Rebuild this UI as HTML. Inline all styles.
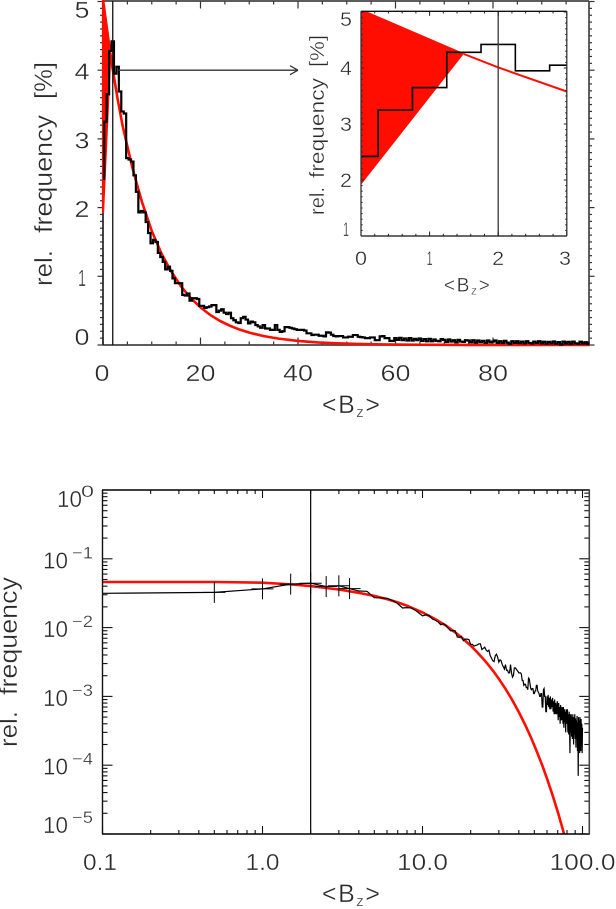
<!DOCTYPE html>
<html>
<head>
<meta charset="utf-8">
<title>Relative frequency of Bz</title>
<style>
html,body{margin:0;padding:0;background:#fff;width:616px;height:909px;overflow:hidden}
svg{display:block}
text{font-family:"Liberation Sans",sans-serif;fill:#2a2a2a;stroke:#fff;stroke-width:.35px;paint-order:normal}
</style>
</head>
<body>
<svg id="figure" xmlns="http://www.w3.org/2000/svg" width="616" height="909" viewBox="0 0 616 909">
  <defs>
    <clipPath id="main-clip"><rect x="101.5" y="0" width="488" height="347"/></clipPath>
    <clipPath id="inset-clip"><rect x="361" y="11.3" width="205.8" height="224.7"/></clipPath>
    <clipPath id="log-clip"><rect x="102.5" y="490" width="487" height="344"/></clipPath>
  </defs>
  <g id="main-plot"></g>
  <g id="inset-plot"></g>
  <g id="log-plot"></g>

  <g font-size="25">
    <text transform="translate(52,286) rotate(-90)" textLength="36" lengthAdjust="spacingAndGlyphs">rel.</text>
    <text transform="translate(52,233) rotate(-90)" textLength="118" lengthAdjust="spacingAndGlyphs">frequency</text>
    <text transform="translate(52,99) rotate(-90)" textLength="37" lengthAdjust="spacingAndGlyphs">[%]</text>
  </g>
  <text x="322" y="413" font-size="25" letter-spacing="1.5">&lt;B<tspan font-size="15" dy="4">z</tspan><tspan dy="-4">&gt;</tspan></text>
  <g font-size="20">
    <text transform="translate(324,215) rotate(-90)" textLength="28" lengthAdjust="spacingAndGlyphs">rel.</text>
    <text transform="translate(324,178) rotate(-90)" textLength="100" lengthAdjust="spacingAndGlyphs">frequency</text>
    <text transform="translate(324,67) rotate(-90)" textLength="32" lengthAdjust="spacingAndGlyphs">[%]</text>
  </g>
  <text x="444" y="291.5" font-size="19" letter-spacing="1.6">&lt;B<tspan font-size="12" dy="3">z</tspan><tspan dy="-3">&gt;</tspan></text>
  <g font-size="25">
    <text transform="translate(17,747) rotate(-90)" textLength="36" lengthAdjust="spacingAndGlyphs">rel.</text>
    <text transform="translate(17,695) rotate(-90)" textLength="118" lengthAdjust="spacingAndGlyphs">frequency</text>
  </g>
  <text x="322" y="902" font-size="25" letter-spacing="1.5">&lt;B<tspan font-size="15" dy="4">z</tspan><tspan dy="-4">&gt;</tspan></text>
</svg>
<script>
// Histogram in percent, one value per 0.5-wide bin centred at index * binWidth
const binWidth = 0.5;
const histogram = [
2.42,3.25,3.65,4.28,4.42,3.95,4.05,3.69,3.40,3.37,
2.72,2.70,2.67,2.47,2.23,1.93,1.95,1.93,1.79,1.63,
1.48,1.53,1.50,1.34,1.28,1.21,1.10,1.14,1.08,0.97,
0.90,0.90,0.90,0.73,0.72,0.75,0.645,0.68,0.68,0.67,
0.57,0.57,0.54,0.55,0.56,0.58,0.58,0.48,0.50,0.52,
0.47,0.45,0.47,0.39,0.36,0.33,0.32,0.39,0.41,0.37,
0.315,0.34,0.33,0.29,0.27,0.25,0.29,0.24,0.24,0.22,
0.22,0.29,0.22,0.19,0.20,0.26,0.26,0.25,0.24,0.23,
0.22,0.22,0.22,0.21,0.17,0.17,0.145,0.15,0.15,0.135,
0.135,0.125,0.185,0.18,0.15,0.13,0.125,0.13,0.13,0.11,
0.11,0.12,0.12,0.145,0.145,0.12,0.115,0.11,0.10,0.10,
0.11,0.11,0.07,0.07,0.125,0.13,0.10,0.10,0.06,0.06,
0.10,0.075,0.105,0.07,0.095,0.065,0.10,0.065,0.09,0.07,
0.095,0.06,0.085,0.055,0.09,0.055,0.08,0.06,0.055,0.085,
0.075,0.045,0.08,0.05,0.07,0.04,0.075,0.05,0.045,0.07,
0.065,0.04,0.07,0.035,0.065,0.042,0.06,0.03,0.065,0.04,
0.05,0.065,0.03,0.055,0.028,0.06,0.035,0.015,0.055,0.03,
0.055,0.026,0.05,0.024,0.055,0.03,0.02,0.05,0.028,0.055,
0.024,0.048,0.018,0.045,0.024,0.052,0.016,0.042,0.007,0.05,
0.02,0.045,0.015,0.05,0.024,0.016,0.047,0.02,0.04,0.015,0.035
];
// Exponential fit, percent
const fitX = [1.5,2,3,4,5,6,7,8,10,12,14,16,18,20,22,24,26,28,30,33,36,40,44,48,52,56,60,65,70,75,80,90,100];
const fitY = [4.25,4.01,3.58,3.20,2.89,2.59,2.33,2.08,1.66,1.33,1.07,0.853,0.683,0.547,0.437,0.350,0.281,0.225,0.180,0.129,0.0925,0.0591,0.0379,0.0243,0.0155,0.0100,0.00640,0.00367,0.00211,0.00121,0.00069,0.00023,0.00008];
// Low-end values of the fit as seen on the log axes
const logFitHeadX = [0.1,0.5,1.0];
const logFitHeadY = [4.6,4.6,4.5];
// Triangular red filled region
const fillX = [0,1.5,0];
const fillY = [5.05,4.26,1.92];
// Marked value and arrow
const markerX = [2];
const arrowValue = [4];
// Leftmost histogram value on the log axis
const logStartX = [0.1];
const logStartY = [3.15];
// Tick labels
const mainXLabels = [0,20,40,60,80];
const mainYLabels = [0,1,2,3,4,5];
const insetXLabels = [0,1,2,3];
const insetYLabels = [1,2,3,4,5];
const logXLabels = ["0.1","1.0","10.0","100.0"];
const logYExponents = [0,-1,-2,-3,-4,-5];
const crossBins = [1,2,3,4,5,6,7];

const NS = 'http://www.w3.org/2000/svg';
const mainG = document.getElementById('main-plot');
const insetG = document.getElementById('inset-plot');
const logG = document.getElementById('log-plot');

const mx = v => 103 + v * 4.875;
const my = v => 345 - v * 68.7;
const ix = v => 361 + v * 68.6;
const iy = v => 236 - (v - 1) * 56;
const lx = v => 102.5 + (Math.log10(v) + 1) * 160;
const ly = v => 490 - Math.log10(v) * 68.8;

function line(parent, x1, y1, x2, y2, color, w, name) {
  const el = document.createElementNS(NS, 'line');
  
  
  el.setAttribute('x1', x1);
  el.setAttribute('y1', y1);
  el.setAttribute('x2', x2);
  el.setAttribute('y2', y2);
  el.setAttribute('stroke', color);
  el.setAttribute('stroke-width', w);
  parent.appendChild(el);
  return el;
}
function poly(parent, pts, stroke, w, fill, clip, name) {
  const el = document.createElementNS(NS, 'polyline');
  
  
  el.setAttribute('points', pts.map(p => p[0].toFixed(2) + ',' + p[1].toFixed(2)).join(' '));
  el.setAttribute('stroke', stroke);
  el.setAttribute('stroke-width', w);
  el.setAttribute('fill', fill);
  el.setAttribute('stroke-linejoin', 'miter');
  if (clip) el.setAttribute('clip-path', 'url(#' + clip + ')');
  parent.appendChild(el);
  return el;
}
function label(parent, x, y, str, size, width, anchor, name) {
  const el = document.createElementNS(NS, 'text');
  
  
  el.setAttribute('x', x);
  el.setAttribute('y', y);
  el.setAttribute('font-size', size);
  el.setAttribute('text-anchor', anchor);
  el.setAttribute('textLength', width);
  el.setAttribute('lengthAdjust', 'spacingAndGlyphs');
  el.textContent = str;
  parent.appendChild(el);
  return el;
}
function stepPoints(sx, sy, maxIndex) {
  const pts = [[sx(0), sy(histogram[0])]];
  for (let i = 0; i < histogram.length && i <= maxIndex; i++) {
    const right = (i + 0.5) * binWidth;
    pts.push([sx(right), sy(histogram[i])]);
    if (i + 1 < histogram.length) pts.push([sx(right), sy(histogram[i + 1])]);
  }
  return pts;
}
const clamp = (v, a, b) => Math.max(a, Math.min(b, v));

/* ---------- main histogram ---------- */
for (let v = 0; v <= 95; v += 5) {
  const major = v % 20 === 0;
  const len = major ? 7.5 : 3.5;
  line(mainG, mx(v), 345, mx(v), 345 - len, '#333', 1.2, 'main-x-tick-bottom');
  line(mainG, mx(v), 1, mx(v), 1 + len, '#333', 1.2, 'main-x-tick-top');
}
for (let k = 0; k <= 50; k++) {
  const major = k % 10 === 0;
  const len = major ? 5.5 : 3;
  line(mainG, 103, my(k / 10), 103 - len, my(k / 10), '#333', 1.2, 'main-y-tick-left');
  line(mainG, 589, my(k / 10), 589 + len, my(k / 10), '#333', 1.2, 'main-y-tick-right');
}
line(mainG, 103, 1, 589, 1, '#444', 1.7, 'main-frame-top');
line(mainG, 103, 345, 589, 345, '#444', 1.7, 'main-frame-bottom');
line(mainG, 103, 1, 103, 345, '#222', 1.7, 'main-frame-left');
line(mainG, 589, 1, 589, 345, '#444', 1.7, 'main-frame-right');
poly(mainG, fillX.map((x, i) => [mx(x), my(fillY[i])]).concat([[mx(fillX[0]), my(fillY[0])]]), '#ff0d00', 2.2, '#ff0d00', 'main-clip', 'main-fit-fill');
poly(mainG, fitX.map((x, i) => [mx(x), my(fitY[i])]), '#ff0d00', 2.6, 'none', 'main-clip', 'main-fit-line');
poly(mainG, stepPoints(mx, my, histogram.length), '#000', 2.2, 'none', 'main-clip', 'main-histogram-line');
line(mainG, mx(markerX[0]), 1, mx(markerX[0]), 345, '#111', 1.3, 'main-marker-line');
line(mainG, mx(3.1), my(arrowValue[0]), 298, my(arrowValue[0]), '#333', 1.3, 'main-arrow-shaft');
line(mainG, 298, my(arrowValue[0]), 290, my(arrowValue[0]) - 4.5, '#333', 1.2, 'main-arrow-head-upper');
line(mainG, 298, my(arrowValue[0]), 290, my(arrowValue[0]) + 4.5, '#333', 1.2, 'main-arrow-head-lower');
mainXLabels.forEach(v => {
  label(mainG, mx(v) - (v === 0 ? 1 : 0), 381, String(v), 23, String(v).length * 15, 'middle', 'main-x-tick-label');
});
mainYLabels.forEach(v => {
  label(mainG, 82, clamp(my(v) + 9.5, 18, 345), String(v), 23, v === 1 ? 8 : 15, 'middle', 'main-y-tick-label');
});

/* ---------- inset ---------- */
poly(insetG, fillX.map((x, i) => [ix(x), iy(fillY[i])]).concat([[ix(fillX[0]), iy(fillY[0])]]), '#ff0d00', 0.5, '#ff0d00', 'inset-clip', 'inset-fit-fill');
poly(insetG, fitX.map((x, i) => [ix(x), iy(fitY[i])]), '#ff0d00', 2, 'none', 'inset-clip', 'inset-fit-line');
poly(insetG, stepPoints(ix, iy, 8), '#000', 1.6, 'none', 'inset-clip', 'inset-histogram-line');
line(insetG, ix(markerX[0]), 11.3, ix(markerX[0]), 236, '#444', 1.4, 'inset-marker-line');
for (let k = 0; k <= 15; k++) {
  const v = k / 5;
  const len = k % 5 === 0 ? 4.5 : 2.2;
  line(insetG, ix(v), 236, ix(v), 236 - len, '#222', 1, 'inset-x-tick-bottom');
  line(insetG, ix(v), 11.3, ix(v), 11.3 + len, '#222', 1, 'inset-x-tick-top');
}
for (let k = 10; k <= 50; k++) {
  const len = k % 10 === 0 ? 3 : 1.6;
  line(insetG, 361, iy(k / 10), 361 + len, iy(k / 10), '#222', 1, 'inset-y-tick-left');
  line(insetG, 566.8, iy(k / 10), 566.8 - len, iy(k / 10), '#222', 1, 'inset-y-tick-right');
}
line(insetG, 361, 11.3, 566.8, 11.3, '#111', 1.3, 'inset-frame-top');
line(insetG, 361, 236, 566.8, 236, '#111', 1.3, 'inset-frame-bottom');
line(insetG, 361, 11.3, 361, 236, '#333', 1.3, 'inset-frame-left');
line(insetG, 566.8, 11.3, 566.8, 236, '#333', 1.3, 'inset-frame-right');
insetXLabels.forEach(v => {
  label(insetG, clamp(ix(v), 360, 565), 265, String(v), 19, v === 1 ? 6 : 12, 'middle', 'inset-x-tick-label');
});
insetYLabels.forEach(v => {
  label(insetG, 346, clamp(iy(v) + 7, 26, 236), String(v), 19, v === 1 ? 6 : 12, 'middle', 'inset-y-tick-label');
});

/* ---------- log-log ---------- */
const logFitPts = logFitHeadX.concat(fitX).map((x, i) => [lx(x), ly(logFitHeadY.concat(fitY)[i] / 100)]);
poly(logG, logFitPts, '#ff0d00', 2.6, 'none', 'log-clip', 'log-fit-line');
const logPts = [[lx(logStartX[0]), ly(logStartY[0] / 100)]];
histogram.forEach((h, i) => {
  if (i > 0) logPts.push([lx(i * binWidth), ly(h / 100)]);
});
poly(logG, logPts, '#000', 1.2, 'none', 'log-clip', 'log-frequency-line');
crossBins.forEach(i => {
  const cx = lx(i * binWidth);
  const cy = ly(histogram[i] / 100);
  line(logG, cx - 11, cy, cx + 11, cy, '#000', 1, 'log-point-cross-horizontal');
  line(logG, cx, cy - 10.5, cx, cy + 10.5, '#000', 1, 'log-point-cross-vertical');
});
line(logG, lx(markerX[0]), 490, lx(markerX[0]), 834, '#000', 1.2, 'log-marker-line');
for (let d = -1; d <= 2; d++) {
  for (let m = 1; m <= 9; m++) {
    const v = m * Math.pow(10, d);
    if (v > 108) continue;
    const len = m === 1 ? 8 : 4;
    line(logG, lx(v), 834, lx(v), 834 - len, '#111', 1.1, 'log-x-tick-bottom');
    line(logG, lx(v), 490, lx(v), 490 + len, '#111', 1.1, 'log-x-tick-top');
  }
}
for (let d = -5; d <= -1; d++) {
  for (let m = 1; m <= 9; m++) {
    const v = m * Math.pow(10, d);
    const len = m === 1 ? 10 : 5;
    line(logG, 102.5, ly(v), 102.5 + len, ly(v), '#111', 1.1, 'log-y-tick-left');
    line(logG, 589.3, ly(v), 589.3 - len, ly(v), '#111', 1.1, 'log-y-tick-right');
  }
}
line(logG, 102, 490, 589.8, 490, '#000', 1.4, 'log-frame-top');
line(logG, 102, 834, 589.8, 834, '#000', 1.4, 'log-frame-bottom');
line(logG, 102.5, 490, 102.5, 834, '#111', 1.4, 'log-frame-left');
line(logG, 589.3, 490, 589.3, 834, '#444', 1.6, 'log-frame-right');
logXLabels.forEach(s => {
  label(logG, lx(parseFloat(s)) + (s === '0.1' ? -2.5 : 0), 870, s, 23, s.length === 3 ? 34 : s.length === 4 ? 51 : 66, 'middle', 'log-x-tick-label');
});
logYExponents.forEach(e => {
  const base = clamp(ly(Math.pow(10, e)) + 9.5, 507, 833);
  if (e === 0) {
    label(logG, 57, base, '10', 23, 25, 'start', 'log-y-tick-label');
    label(logG, 81, base - 10, '0', 17, 13, 'start', 'log-y-tick-exponent');
  } else {
    label(logG, 43, base, '10', 23, 25, 'start', 'log-y-tick-label');
    label(logG, 72, base - 10, '\u2212' + Math.abs(e), 17, 21, 'start', 'log-y-tick-exponent');
  }
});
</script>
</body>
</html>
